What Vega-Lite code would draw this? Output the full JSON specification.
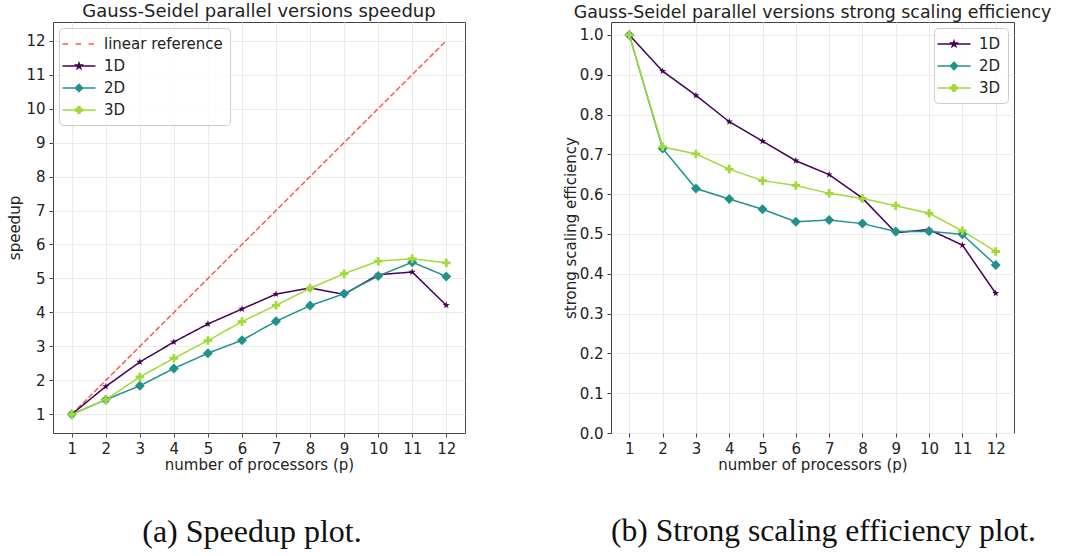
{
  "$schema": "https://vega.github.io/schema/vega-lite/v6.json",
  "background": "white",
  "padding": {"left": 6, "top": 2, "right": 5, "bottom": 0},
  "columns": 2,
  "spacing": {"row": 79, "column": 146},
  "bounds": "flush",
  "resolve": {"scale": {"color": "independent", "strokeDash": "independent"}, "legend": {"color": "independent"}},
  "datasets": {
    "speed": [
      {"p": 1, "value": 1, "series": "linear reference"},
      {"p": 2, "value": 2, "series": "linear reference"},
      {"p": 3, "value": 3, "series": "linear reference"},
      {"p": 4, "value": 4, "series": "linear reference"},
      {"p": 5, "value": 5, "series": "linear reference"},
      {"p": 6, "value": 6, "series": "linear reference"},
      {"p": 7, "value": 7, "series": "linear reference"},
      {"p": 8, "value": 8, "series": "linear reference"},
      {"p": 9, "value": 9, "series": "linear reference"},
      {"p": 10, "value": 10, "series": "linear reference"},
      {"p": 11, "value": 11, "series": "linear reference"},
      {"p": 12, "value": 12, "series": "linear reference"},
      {"p": 1, "value": 1.0, "series": "1D"},
      {"p": 2, "value": 1.82, "series": "1D"},
      {"p": 3, "value": 2.54, "series": "1D"},
      {"p": 4, "value": 3.13, "series": "1D"},
      {"p": 5, "value": 3.66, "series": "1D"},
      {"p": 6, "value": 4.10, "series": "1D"},
      {"p": 7, "value": 4.54, "series": "1D"},
      {"p": 8, "value": 4.72, "series": "1D"},
      {"p": 9, "value": 4.53, "series": "1D"},
      {"p": 10, "value": 5.11, "series": "1D"},
      {"p": 11, "value": 5.19, "series": "1D"},
      {"p": 12, "value": 4.21, "series": "1D"},
      {"p": 1, "value": 1.0, "series": "2D"},
      {"p": 2, "value": 1.43, "series": "2D"},
      {"p": 3, "value": 1.84, "series": "2D"},
      {"p": 4, "value": 2.35, "series": "2D"},
      {"p": 5, "value": 2.80, "series": "2D"},
      {"p": 6, "value": 3.18, "series": "2D"},
      {"p": 7, "value": 3.74, "series": "2D"},
      {"p": 8, "value": 4.20, "series": "2D"},
      {"p": 9, "value": 4.55, "series": "2D"},
      {"p": 10, "value": 5.07, "series": "2D"},
      {"p": 11, "value": 5.48, "series": "2D"},
      {"p": 12, "value": 5.06, "series": "2D"},
      {"p": 1, "value": 1.0, "series": "3D"},
      {"p": 2, "value": 1.43, "series": "3D"},
      {"p": 3, "value": 2.10, "series": "3D"},
      {"p": 4, "value": 2.65, "series": "3D"},
      {"p": 5, "value": 3.17, "series": "3D"},
      {"p": 6, "value": 3.73, "series": "3D"},
      {"p": 7, "value": 4.21, "series": "3D"},
      {"p": 8, "value": 4.71, "series": "3D"},
      {"p": 9, "value": 5.14, "series": "3D"},
      {"p": 10, "value": 5.51, "series": "3D"},
      {"p": 11, "value": 5.58, "series": "3D"},
      {"p": 12, "value": 5.46, "series": "3D"}
    ],
    "eff": [
      {"p": 1, "value": 1.0, "series": "1D"},
      {"p": 2, "value": 0.909, "series": "1D"},
      {"p": 3, "value": 0.848, "series": "1D"},
      {"p": 4, "value": 0.782, "series": "1D"},
      {"p": 5, "value": 0.733, "series": "1D"},
      {"p": 6, "value": 0.684, "series": "1D"},
      {"p": 7, "value": 0.649, "series": "1D"},
      {"p": 8, "value": 0.590, "series": "1D"},
      {"p": 9, "value": 0.503, "series": "1D"},
      {"p": 10, "value": 0.511, "series": "1D"},
      {"p": 11, "value": 0.472, "series": "1D"},
      {"p": 12, "value": 0.351, "series": "1D"},
      {"p": 1, "value": 1.0, "series": "2D"},
      {"p": 2, "value": 0.715, "series": "2D"},
      {"p": 3, "value": 0.614, "series": "2D"},
      {"p": 4, "value": 0.588, "series": "2D"},
      {"p": 5, "value": 0.562, "series": "2D"},
      {"p": 6, "value": 0.531, "series": "2D"},
      {"p": 7, "value": 0.535, "series": "2D"},
      {"p": 8, "value": 0.526, "series": "2D"},
      {"p": 9, "value": 0.506, "series": "2D"},
      {"p": 10, "value": 0.507, "series": "2D"},
      {"p": 11, "value": 0.499, "series": "2D"},
      {"p": 12, "value": 0.422, "series": "2D"},
      {"p": 1, "value": 1.0, "series": "3D"},
      {"p": 2, "value": 0.719, "series": "3D"},
      {"p": 3, "value": 0.701, "series": "3D"},
      {"p": 4, "value": 0.663, "series": "3D"},
      {"p": 5, "value": 0.634, "series": "3D"},
      {"p": 6, "value": 0.622, "series": "3D"},
      {"p": 7, "value": 0.602, "series": "3D"},
      {"p": 8, "value": 0.589, "series": "3D"},
      {"p": 9, "value": 0.571, "series": "3D"},
      {"p": 10, "value": 0.552, "series": "3D"},
      {"p": 11, "value": 0.508, "series": "3D"},
      {"p": 12, "value": 0.456, "series": "3D"}
    ]
  },
  "concat": [
    {
      "width": 412,
      "height": 411,
      "title": {"text": "Gauss-Seidel parallel versions speedup"},
      "data": {"name": "speed"},
      "encoding": {
        "x": {"field": "p", "type": "quantitative", "scale": {"domain": [0.45, 12.55], "nice": false, "zero": false},
              "axis": {"values": [1,2,3,4,5,6,7,8,9,10,11,12], "format": "d", "title": "number of processors (p)"}},
        "y": {"field": "value", "type": "quantitative", "scale": {"domain": [0.45, 12.55], "nice": false, "zero": false},
              "axis": {"values": [1,2,3,4,5,6,7,8,9,10,11,12], "format": "d", "title": "speedup", "minExtent": 26, "maxExtent": 26}},
        "color": {"field": "series", "type": "nominal",
                  "scale": {"domain": ["linear reference", "1D", "2D", "3D"], "range": ["#ff5555", "#440154", "#21918c", "#a0da39"]}}
      },
      "layer": [
        {
          "mark": {"type": "line", "strokeWidth": 1.5},
          "encoding": {
            "color": {"field": "series", "type": "nominal",
                      "legend": {"title": null, "orient": "top-left", "offset": 6, "symbolSize": 256, "symbolStrokeWidth": 1.5,
                                 "symbolOffset": 4, "labelOffset": 16,
                                 "encode": {"symbols": {"update": {
                                   "shape": {"signal": "datum.value === 'linear reference' ? 'M-2.0625,0L-1.1875,0M-0.4375,0L0.4375,0M1.1875,0L2.0625,0' : datum.value === '1D' ? 'M-2.0625,0L2.0625,0M0,-0.36L0.082,-0.112L0.342,-0.111L0.131,0.043L0.212,0.291L0,0.138L-0.212,0.291L-0.131,0.043L-0.342,-0.111L-0.082,-0.112Z' : datum.value === '2D' ? 'M-2.0625,0L2.0625,0M0,-0.45L0.45,0L0,0.45L-0.45,0Z' : 'M-2.0625,0L2.0625,0M-0.14,-0.42L0.14,-0.42L0.14,-0.14L0.42,-0.14L0.42,0.14L0.14,0.14L0.14,0.42L-0.14,0.42L-0.14,0.14L-0.42,0.14L-0.42,-0.14L-0.14,-0.14Z'"},
                                   "stroke": {"signal": "datum.value === '1D' ? '#440154' : datum.value === '2D' ? '#21918c' : datum.value === '3D' ? '#a0da39' : '#ff5555'"},
                                   "fill": {"signal": "datum.value === '1D' ? '#440154' : datum.value === '2D' ? '#21918c' : datum.value === '3D' ? '#a0da39' : 'transparent'"},
                                   "size": {"value": 256},
                                   "strokeWidth": {"value": 1.5},
                                   "opacity": {"value": 1}
                                 }}}}},
            "strokeDash": {"field": "series", "type": "nominal",
                           "scale": {"domain": ["linear reference", "1D", "2D", "3D"], "range": [[5.5, 2.4], [1, 0], [1, 0], [1, 0]]},
                           "legend": null}
          }
        },
        {
          "transform": [{"filter": "datum.series === '1D'"}],
          "mark": {"type": "point", "filled": true, "opacity": 1, "size": 100,
                   "shape": "M0,-0.75L0.17,-0.233L0.713,-0.232L0.274,0.089L0.441,0.607L0,0.287L-0.441,0.607L-0.274,0.089L-0.713,-0.232L-0.17,-0.233Z"},
          "encoding": {"color": {"field": "series", "type": "nominal", "legend": null}}
        },
        {
          "transform": [{"filter": "datum.series === '2D'"}],
          "mark": {"type": "point", "filled": true, "opacity": 1, "size": 100, "shape": "M0,-1L1,0L0,1L-1,0Z"},
          "encoding": {"color": {"field": "series", "type": "nominal", "legend": null}}
        },
        {
          "transform": [{"filter": "datum.series === '3D'"}],
          "mark": {"type": "point", "filled": true, "opacity": 1, "size": 100,
                   "shape": "M-0.28,-0.85L0.28,-0.85L0.28,-0.28L0.85,-0.28L0.85,0.28L0.28,0.28L0.28,0.85L-0.28,0.85L-0.28,0.28L-0.85,0.28L-0.85,-0.28L-0.28,-0.28Z"},
          "encoding": {"color": {"field": "series", "type": "nominal", "legend": null}}
        }
      ]
    },
    {
      "width": 403,
      "height": 411,
      "title": {"text": "Gauss-Seidel parallel versions strong scaling efficiency", "fontSize": 17.4},
      "data": {"name": "eff"},
      "encoding": {
        "x": {"field": "p", "type": "quantitative", "scale": {"domain": [0.45, 12.55], "nice": false, "zero": false},
              "axis": {"values": [1,2,3,4,5,6,7,8,9,10,11,12], "format": "d", "title": "number of processors (p)"}},
        "y": {"field": "value", "type": "quantitative", "scale": {"domain": [0, 1.0325], "nice": false, "zero": false},
              "axis": {"values": [0,0.1,0.2,0.3,0.4,0.5,0.6,0.7,0.8,0.9,1.0], "format": ".1f", "title": "strong scaling efficiency", "minExtent": 28, "maxExtent": 28}},
        "color": {"field": "series", "type": "nominal",
                  "scale": {"domain": ["1D", "2D", "3D"], "range": ["#440154", "#21918c", "#a0da39"]}}
      },
      "layer": [
        {
          "mark": {"type": "line", "strokeWidth": 1.5},
          "encoding": {
            "color": {"field": "series", "type": "nominal",
                      "legend": {"title": null, "orient": "top-right", "offset": 6, "symbolSize": 256, "symbolStrokeWidth": 1.5,
                                 "symbolOffset": 4, "labelOffset": 16,
                                 "encode": {"symbols": {"update": {
                                   "shape": {"signal": "datum.value === '1D' ? 'M-2.0625,0L2.0625,0M0,-0.36L0.082,-0.112L0.342,-0.111L0.131,0.043L0.212,0.291L0,0.138L-0.212,0.291L-0.131,0.043L-0.342,-0.111L-0.082,-0.112Z' : datum.value === '2D' ? 'M-2.0625,0L2.0625,0M0,-0.45L0.45,0L0,0.45L-0.45,0Z' : 'M-2.0625,0L2.0625,0M-0.14,-0.42L0.14,-0.42L0.14,-0.14L0.42,-0.14L0.42,0.14L0.14,0.14L0.14,0.42L-0.14,0.42L-0.14,0.14L-0.42,0.14L-0.42,-0.14L-0.14,-0.14Z'"},
                                   "stroke": {"signal": "datum.value === '1D' ? '#440154' : datum.value === '2D' ? '#21918c' : '#a0da39'"},
                                   "fill": {"signal": "datum.value === '1D' ? '#440154' : datum.value === '2D' ? '#21918c' : '#a0da39'"},
                                   "size": {"value": 256},
                                   "strokeWidth": {"value": 1.5},
                                   "opacity": {"value": 1}
                                 }}}}}
          }
        },
        {
          "transform": [{"filter": "datum.series === '1D'"}],
          "mark": {"type": "point", "filled": true, "opacity": 1, "size": 100,
                   "shape": "M0,-0.75L0.17,-0.233L0.713,-0.232L0.274,0.089L0.441,0.607L0,0.287L-0.441,0.607L-0.274,0.089L-0.713,-0.232L-0.17,-0.233Z"},
          "encoding": {"color": {"field": "series", "type": "nominal", "legend": null}}
        },
        {
          "transform": [{"filter": "datum.series === '2D'"}],
          "mark": {"type": "point", "filled": true, "opacity": 1, "size": 100, "shape": "M0,-1L1,0L0,1L-1,0Z"},
          "encoding": {"color": {"field": "series", "type": "nominal", "legend": null}}
        },
        {
          "transform": [{"filter": "datum.series === '3D'"}],
          "mark": {"type": "point", "filled": true, "opacity": 1, "size": 100,
                   "shape": "M-0.28,-0.85L0.28,-0.85L0.28,-0.28L0.85,-0.28L0.85,0.28L0.28,0.28L0.28,0.85L-0.28,0.85L-0.28,0.28L-0.85,0.28L-0.85,-0.28L-0.28,-0.28Z"},
          "encoding": {"color": {"field": "series", "type": "nominal", "legend": null}}
        }
      ]
    },
    {
      "width": 412,
      "height": 40,
      "view": {"stroke": null},
      "data": {"values": [{"caption": "(a) Speedup plot."}]},
      "mark": {"type": "text", "font": "Liberation Serif", "fontSize": 32, "dx": -7, "color": "#111111", "align": "center", "baseline": "middle"},
      "encoding": {"text": {"field": "caption", "type": "nominal"}}
    },
    {
      "width": 403,
      "height": 40,
      "view": {"stroke": null},
      "data": {"values": [{"caption": "(b) Strong scaling efficiency plot."}]},
      "mark": {"type": "text", "font": "Liberation Serif", "fontSize": 31.6, "dx": 11, "color": "#111111", "align": "center", "baseline": "middle"},
      "encoding": {"text": {"field": "caption", "type": "nominal"}}
    }
  ],
  "config": {
    "font": "DejaVu Sans",
    "view": {"stroke": "#444444", "strokeWidth": 1},
    "axis": {
      "labelFont": "DejaVu Sans", "titleFont": "DejaVu Sans",
      "labelFontSize": 15, "titleFontSize": 15, "titleFontWeight": "normal",
      "labelColor": "#222222", "titleColor": "#222222",
      "tickColor": "#444444", "tickSize": 4, "tickWidth": 1,
      "domain": false, "gridColor": "#ebebeb", "gridWidth": 1,
      "labelPadding": 4, "labelOverlap": false, "labelFlush": false
    },
    "axisX": {"titlePadding": 1},
    "axisY": {"titlePadding": 5},
    "title": {"font": "DejaVu Sans", "fontSize": 18, "fontWeight": "normal", "color": "#222222", "offset": 1, "baseline": "bottom", "anchor": "middle"},
    "legend": {
      "labelFont": "DejaVu Sans", "labelFontSize": 15, "labelColor": "#222222",
      "padding": 7, "rowPadding": 5,
      "strokeColor": "#cccccc", "fillColor": "rgba(255,255,255,0.8)", "cornerRadius": 4
    }
  }
}
